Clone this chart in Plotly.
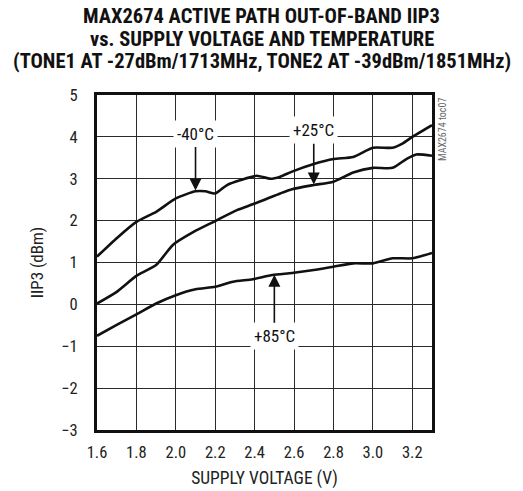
import plotly.graph_objects as go

# Supply voltage (V) sample points and IIP3 (dBm) readings for each temperature
v_m40 = [1.6, 1.7, 1.8, 1.9, 2.0, 2.1, 2.15, 2.2, 2.26, 2.33, 2.41, 2.48, 2.53, 2.59, 2.7, 2.8, 2.9, 3.0, 3.1, 3.15, 3.2, 3.3]
iip3_m40 = [1.14, 1.58, 1.97, 2.21, 2.53, 2.70, 2.70, 2.65, 2.85, 2.97, 3.07, 3.0, 3.05, 3.17, 3.35, 3.47, 3.52, 3.74, 3.74, 3.84, 4.0, 4.28]

v_p25 = [1.6, 1.7, 1.8, 1.9, 1.985, 2.09, 2.2, 2.31, 2.39, 2.45, 2.53, 2.59, 2.7, 2.8, 2.9, 3.0, 3.1, 3.17, 3.22, 3.3]
iip3_p25 = [0.02, 0.30, 0.68, 0.94, 1.42, 1.73, 1.99, 2.25, 2.39, 2.5, 2.65, 2.75, 2.85, 2.93, 3.15, 3.26, 3.26, 3.47, 3.58, 3.55]

v_p85 = [1.6, 1.7, 1.8, 1.9, 2.0, 2.1, 2.2, 2.29, 2.39, 2.49, 2.59, 2.7, 2.8, 2.9, 3.0, 3.1, 3.2, 3.3]
iip3_p85 = [-0.75, -0.49, -0.24, 0.02, 0.22, 0.36, 0.42, 0.54, 0.60, 0.70, 0.75, 0.82, 0.90, 0.98, 0.98, 1.10, 1.10, 1.23]

x_ticks = [1.6, 1.8, 2.0, 2.2, 2.4, 2.6, 2.8, 3.0, 3.2]
x_tick_text = ["1.6", "1.8", "2.0", "2.2", "2.4", "2.6", "2.8", "3.0", "3.2"]
y_ticks = [-3, -2, -1, 0, 1, 2, 3, 4, 5]

title_lines = [
    "MAX2674 ACTIVE PATH OUT-OF-BAND IIP3",
    "vs. SUPPLY VOLTAGE AND TEMPERATURE",
    "(TONE1 AT -27dBm/1713MHz, TONE2 AT -39dBm/1851MHz)",
]

# labels: (text, text x, text y, arrow tip x, arrow tip y)
labels = [
    ("-40°C", 2.1, 4.08, 2.1, 2.72),
    ("+25°C", 2.7, 4.16, 2.7, 2.86),
    ("+85°C", 2.5, -0.76, 2.5, 0.71),
]

FONT = "Roboto Condensed, DejaVu Sans Condensed, sans-serif"
L, R, T, B = 97, 91, 95, 61
W, H = 523, 491
PW, PH = W - L - R, H - T - B


def px_x(px):
    return (px - L) / PW


def px_y(py):
    return 1 - (py - T) / PH


fig = go.Figure()
for xs, ys in [(v_m40, iip3_m40), (v_p25, iip3_p25), (v_p85, iip3_p85)]:
    fig.add_trace(go.Scatter(x=xs, y=ys, mode="lines",
                             line=dict(color="#111111", width=2.6, shape="spline", smoothing=0.6),
                             showlegend=False, hoverinfo="skip"))

for txt, tx, ty, px, py in labels:
    fig.add_annotation(x=px, y=py, ax=tx, ay=ty, xref="x", yref="y", axref="x", ayref="y",
                       text=txt, showarrow=True, arrowhead=2, arrowsize=1.5, arrowwidth=1.6,
                       arrowcolor="#111111", bgcolor="white", borderpad=3,
                       font=dict(family=FONT, size=17, color="#111111"))

fig.add_annotation(x=px_x(442), y=px_y(130), xref="paper", yref="paper",
                   xanchor="center", yanchor="middle",
                   text="MAX2674 toc07", showarrow=False, textangle=-90,
                   font=dict(family=FONT, size=10, color="#666666"))

for line, cy in zip(title_lines, [15.5, 39, 61]):
    fig.add_annotation(x=px_x(261.5), y=px_y(cy), xref="paper", yref="paper",
                       xanchor="center", yanchor="middle", text="<b>" + line + "</b>",
                       showarrow=False, font=dict(family=FONT, size=20.5, color="#111111"))

axis_common = dict(showgrid=True, gridcolor="#2a2a2a", gridwidth=1, zeroline=False,
                   showline=True, linecolor="#111111", linewidth=3, mirror=True,
                   ticks="", tickfont=dict(family=FONT, size=16.5, color="#222222"),
                   layer="below traces", automargin=False)

fig.update_xaxes(range=[1.6, 3.3], tickvals=x_ticks, ticktext=x_tick_text,
                 title=dict(text="SUPPLY VOLTAGE (V)", font=dict(family=FONT, size=17.5, color="#222222"), standoff=11),
                 ticklabelstandoff=5, **axis_common)
fig.update_yaxes(range=[-3, 5], tickvals=y_ticks,
                 title=dict(text="IIP3 (dBm)", font=dict(family=FONT, size=17, color="#222222"), standoff=14),
                 ticklabelstandoff=13, **axis_common)

fig.update_layout(
    width=W, height=H,
    margin=dict(l=L, r=R, t=T, b=B),
    paper_bgcolor="white", plot_bgcolor="white",
)

fig.write_html("out.html", config={"displayModeBar": False},
               post_script="document.body.style.margin='0';document.body.style.overflow='hidden';")
